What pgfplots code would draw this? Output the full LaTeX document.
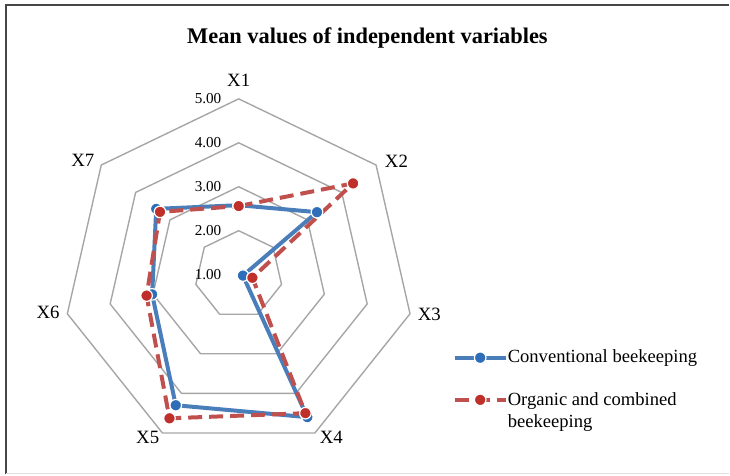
\documentclass[border=0pt]{standalone}
\usepackage{fontspec}
\setmainfont{Liberation Serif}
\usepackage{pgfplots}
\pgfplotsset{compat=1.18}
\usepackage{pgfplotstable}
\usepgfplotslibrary{polar}

\definecolor{ringgray}{RGB}{166,166,166}
\definecolor{lineblue}{RGB}{74,126,187}
\definecolor{markblue}{RGB}{46,109,184}
\definecolor{linered}{RGB}{192,80,77}
\definecolor{markred}{RGB}{192,48,43}
\definecolor{framegray}{RGB}{70,70,70}

% angle (deg), conventional, organic & combined (radial axis starts at 1.00)
\pgfplotstableread{
a c o
90 2.58 2.56
38.571 3.28 4.33
-12.857 1.10 1.32
-64.286 4.60 4.50
-115.714 4.30 4.63
-167.143 3.02 3.15
-218.571 3.40 3.29
-270 2.58 2.56
}\means

% grid rings at 2.00, 3.00, 4.00, 5.00 (radius measured from 1.00)
\pgfplotstableread{
a r1 r2 r3 r4
90 1 2 3 4
38.571 1 2 3 4
-12.857 1 2 3 4
-64.286 1 2 3 4
-115.714 1 2 3 4
-167.143 1 2 3 4
-218.571 1 2 3 4
-270 1 2 3 4
}\rings

\begin{document}
\begin{tikzpicture}
\begin{axis}[
  x=22pt, y=22pt,
  xmin=-5.4318, xmax=11.1591, ymin=-4.5455, ymax=6.25,
  hide axis, clip=false,
  legend style={at={(axis cs:4.86,-1.61)}, anchor=north west, draw=none, fill=none,
    font=\fontsize{9.3}{10.2}\selectfont, row sep=8.8pt, inner sep=0pt,
    cells={anchor=west, align=left, inner xsep=1.5pt}},
  legend image code/.code={\draw[mark repeat=2,mark phase=2,#1] plot coordinates {(0cm,0cm)(0.45cm,0cm)(0.9cm,0cm)};},
]
\path (rel axis cs:0,0) rectangle (rel axis cs:1,1);
\draw[framegray, line width=1pt] (axis cs:-5.284,-4.5455) -- (axis cs:-5.284,6.125) -- (axis cs:11.1591,6.125);
\draw[gray!25, line width=0.6pt] (axis cs:-5.284,-4.52) -- (axis cs:11.1591,-4.52);

\pgfplotsinvokeforeach{1,2,3,4}{
  \addplot[forget plot, data cs=polar, ringgray, line width=0.7pt, line join=round, no markers]
    table[x=a, y=r#1] {\rings};
}

\addplot[data cs=polar, lineblue, line width=2pt, line join=round, mark=*, mark size=2.9pt,
  mark options={fill=markblue, draw=white, line width=0.6pt, solid}]
  table[x=a, y expr={\thisrow{c}-1}] {\means};
\addlegendentry{\hspace{-2pt}Conventional beekeeping}

\addplot[data cs=polar, linered, line width=2pt, line join=round, dash pattern=on 7pt off 3.5pt, mark=*, mark size=2.9pt,
  mark options={fill=markred, draw=white, line width=0.6pt, solid}]
  table[x=a, y expr={\thisrow{o}-1}] {\means};
\addlegendentry{\hspace{-2pt}\raisebox{0pt}[\height][0pt]{\begin{tabular}[t]{@{}l@{}}Organic and combined\\[0.8pt]beekeeping\end{tabular}}}

\node[font=\fontsize{11.2}{13}\selectfont\bfseries] at (axis cs:2.93,5.386) {Mean values of independent variables};

\node[anchor=east, inner sep=0pt, font=\fontsize{7.6}{9}\selectfont] at (axis cs:-0.386,0) {1.00};
\node[anchor=east, inner sep=0pt, font=\fontsize{7.6}{9}\selectfont] at (axis cs:-0.386,1) {2.00};
\node[anchor=east, inner sep=0pt, font=\fontsize{7.6}{9}\selectfont] at (axis cs:-0.386,2) {3.00};
\node[anchor=east, inner sep=0pt, font=\fontsize{7.6}{9}\selectfont] at (axis cs:-0.386,3) {4.00};
\node[anchor=east, inner sep=0pt, font=\fontsize{7.6}{9}\selectfont] at (axis cs:-0.386,4) {5.00};

\node[font=\fontsize{9.4}{11}\selectfont] at (axis cs:0,4.416) {X1};
\node[font=\fontsize{9.4}{11}\selectfont] at (axis cs:3.59,2.57) {X2};
\node[font=\fontsize{9.4}{11}\selectfont] at (axis cs:4.34,-0.91) {X3};
\node[font=\fontsize{9.4}{11}\selectfont] at (axis cs:2.11,-3.70) {X4};
\node[font=\fontsize{9.4}{11}\selectfont] at (axis cs:-2.07,-3.70) {X5};
\node[font=\fontsize{9.4}{11}\selectfont] at (axis cs:-4.34,-0.86) {X6};
\node[font=\fontsize{9.4}{11}\selectfont] at (axis cs:-3.545,2.61) {X7};
\end{axis}
\end{tikzpicture}
\end{document}
